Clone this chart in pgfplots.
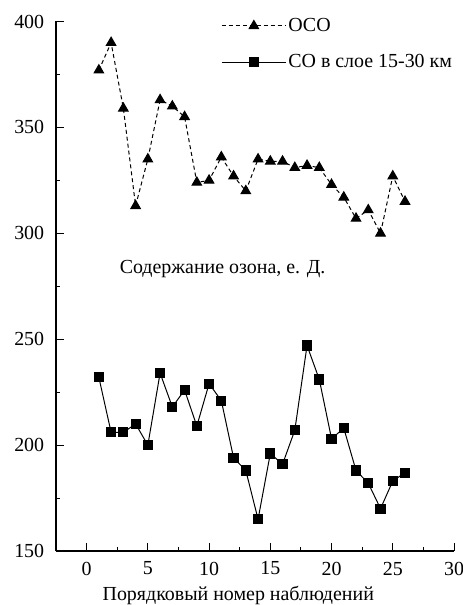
\documentclass[border=0pt]{standalone}
\usepackage{fontspec}
\setmainfont{Liberation Serif}
\usepackage{pgfplots}
\pgfplotsset{compat=1.18}
\newcommand{\myfont}{\fontsize{20}{24}\selectfont}
\begin{document}
\myfont
\begin{tikzpicture}[x=1bp,y=1bp,every node/.style={font=\myfont}]
\begin{axis}[
  scale only axis,
  width=398bp, height=529.5bp,
  xmin=-2.5, xmax=30, ymin=150, ymax=400,
  axis lines=left,
  axis line style={-, line width=1.2pt},
  xtick={0,5,...,30}, ytick={150,200,...,400},
  minor x tick num=1, minor y tick num=1,
  tick align=inside,
  major tick length=8bp, minor tick length=4.5bp,
  tick style={line width=1pt, black},
  /pgf/number format/assume math mode=true,
  tick label style={font=\myfont},
  xticklabel style={yshift=-4bp},
  yticklabel style={xshift=-5bp},
  xlabel={Порядковый номер наблюдений},
  label style={font=\myfont},
  xlabel style={at={(axis description cs:0.458,0)}, anchor=base, yshift=-49bp},
  legend style={draw=none, fill=none, at={(rel axis cs:0.415,1.011)}, anchor=north west,
    font=\myfont, row sep=16bp, inner sep=0pt,
    nodes={inner sep=2pt}},
  legend cell align=left,
  legend image code/.code={\draw[mark repeat=2,mark phase=2] plot coordinates {(0bp,0bp) (32bp,0bp) (64bp,0bp)};},
]
\coordinate (O) at (rel axis cs:0,0);
\addplot[black, line width=1pt, dash pattern=on 4pt off 3pt, mark=triangle*, mark size=5.5pt, mark options={solid}] coordinates {
(1,377) (2,390) (3,359) (4,313) (5,335) (6,363) (7,360) (8,355) (9,324) (10,325)
(11,336) (12,327) (13,320) (14,335) (15,334) (16,334) (17,331) (18,332) (19,331) (20,323)
(21,317) (22,307) (23,311) (24,300) (25,327) (26,315)
};
\addlegendentry{ОСО}
\addplot[black, line width=1pt, mark=square*, mark size=4.6pt] coordinates {
(1,232) (2,206) (3,206) (4,210) (5,200) (6,234) (7,218) (8,226) (9,209) (10,229)
(11,221) (12,194) (13,188) (14,165) (15,196) (16,191) (17,207) (18,247) (19,231) (20,203)
(21,208) (22,188) (23,182) (24,170) (25,183) (26,187)
};
\addlegendentry{СО в слое 15-30 км}
\node[font=\myfont, anchor=base] at (axis cs:11.1,280.8) {Содержание озона, е. Д.};
\end{axis}
\pgfresetboundingbox
\path (O) ++(-56bp,-54bp) rectangle ++(463bp,605bp);
\end{tikzpicture}
\end{document}
